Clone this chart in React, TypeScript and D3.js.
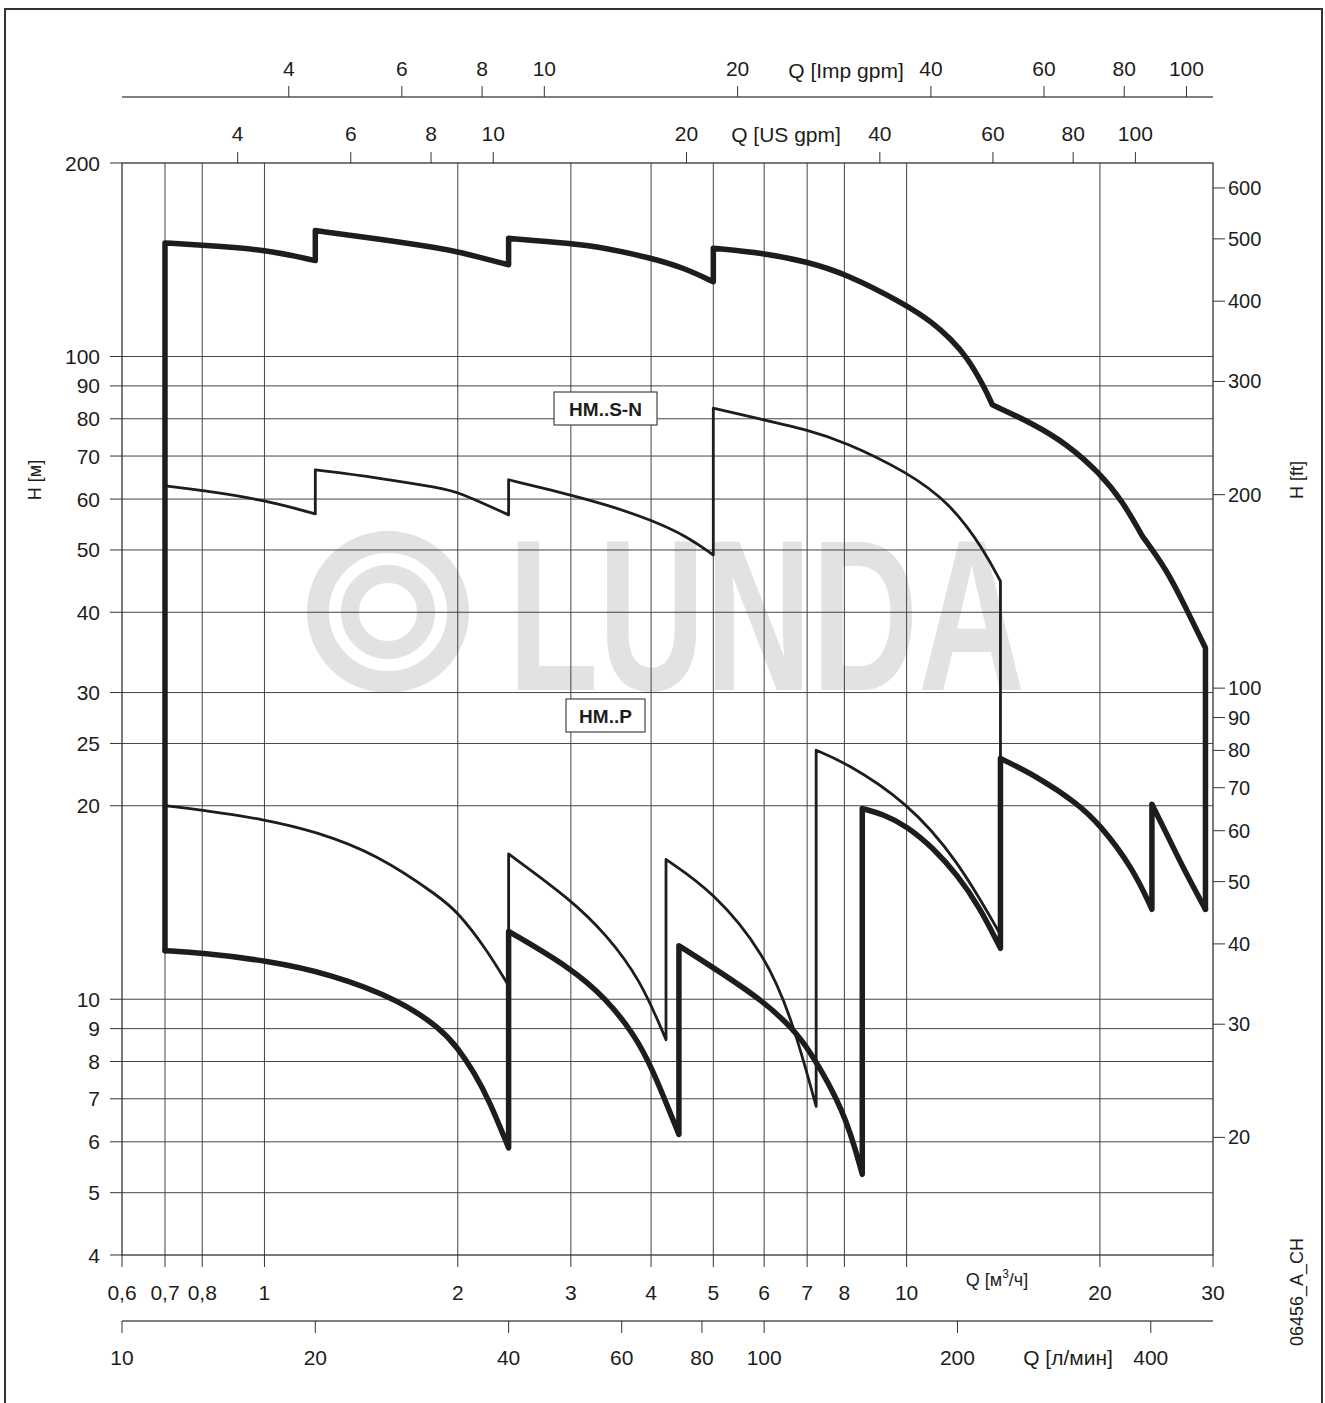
import React from 'react';
import * as d3 from 'd3';

// ---------- axis ticks ----------
const qTicks = [0.6, 0.7, 0.8, 1, 2, 3, 4, 5, 6, 7, 8, 10, 20, 30];
const qTickLabels = ['0,6', '0,7', '0,8', '1', '2', '3', '4', '5', '6', '7', '8', '10', '20', '30'];
const qGrid = [0.7, 0.8, 1, 2, 3, 4, 5, 6, 7, 8, 10, 20];
const hTicks = [200, 100, 90, 80, 70, 60, 50, 40, 30, 25, 20, 10, 9, 8, 7, 6, 5, 4];
const hGrid = [100, 90, 80, 70, 60, 50, 40, 30, 25, 20, 10, 9, 8, 7, 6, 5];
const ftTicks = [600, 500, 400, 300, 200, 100, 90, 80, 70, 60, 50, 40, 30, 20];
const usGpmTicks = [4, 6, 8, 10, 20, 40, 60, 80, 100];
const impGpmTicks = [4, 6, 8, 10, 20, 40, 60, 80, 100];
const lminTicks = [10, 20, 40, 60, 80, 100, 200, 400];

const US_GPM = 4.40287; // per m3/h
const IMP_GPM = 3.66615;
const LMIN = 16.6667;
const FT = 3.28084;

// ---------- curves: [Q m3/h, H m] ----------
// thick envelope, upper edge
const thickTop1 = [[0.7, 150.2], [0.8, 149], [1.0, 146.8], [1.2, 141]];
const thickTop2 = [[1.2, 157], [1.5, 152.5], [1.88, 147.4], [2.0, 145.6], [2.4, 138.9]];
const thickTop3 = [[2.4, 152.7], [3.0, 150.0], [3.41, 147.4], [4.0, 142.3], [4.5, 137.4], [5.0, 130.7]];
const thickTop4 = [[5.0, 147.4], [6.0, 144.8], [7.0, 140.4], [8.0, 134.8], [10, 120.3], [11, 112.7], [11.7, 106.6], [12.4, 100], [13.2, 89.8], [13.6, 84.1]];
const thickTop5 = [[13.6, 84.1], [15.7, 78.7], [17.8, 73.0], [20, 65.8], [21.7, 59.5], [23.3, 52.5]];
const thickTop6 = [[23.3, 52.5], [25.4, 46.6], [27, 41.3], [29.2, 35.2]];
// thick envelope, lower edge
const thickBot1 = [[0.7, 11.9], [0.8, 11.8], [1.0, 11.5], [1.27, 10.95], [1.63, 9.95], [1.88, 9.0], [2.0, 8.4], [2.12, 7.7], [2.24, 6.95], [2.4, 5.87]];
const thickBot2 = [[2.4, 12.75], [3.0, 11.19], [3.41, 10.0], [3.75, 8.86], [4.0, 7.9], [4.42, 6.16]];
const thickBot3 = [[4.42, 12.11], [5.0, 11.2], [6.0, 9.92], [6.64, 9.0], [7.0, 8.45], [8.0, 6.73], [8.53, 5.34]];
const thickBot4 = [[8.53, 19.8], [9.2, 19.4], [10, 18.6], [11, 17.2], [12, 15.6], [13, 13.9], [14, 12.0]];
const thickBot5 = [[14, 23.7], [16.1, 22.1], [18.4, 20.2], [20, 18.7], [22.5, 16.0], [24.1, 13.8]];
const thickBot6 = [[24.1, 20.1], [25.4, 18.1], [27, 15.95], [29.2, 13.8]];
// thin HM..S-N
const sn1 = [[0.7, 62.9], [0.8, 61.9], [1.0, 59.8], [1.2, 56.9]];
const sn2 = [[1.2, 66.6], [1.5, 64.8], [1.88, 62.4], [2.0, 61.6], [2.4, 56.7]];
const sn3 = [[2.4, 64.3], [3.0, 60.9], [3.41, 58.8], [4.0, 55.7], [4.55, 52.5], [5.0, 49.1]];
const sn4 = [[5.0, 83.1], [6.0, 79.7], [7.0, 76.9], [8.0, 73.7], [10, 66.2], [11.7, 59.1], [13.2, 50.0], [14, 44.7]];
const snEnd = [[14, 44.7], [14, 12.0]];
// thin HM..P
const p1 = [[0.7, 20], [0.8, 19.7], [1.0, 19.05], [1.2, 18.25], [1.5, 16.8], [1.88, 14.4], [2.0, 13.65], [2.2, 12.1], [2.4, 10.5]];
const p2 = [[2.4, 16.83], [3.0, 14.29], [3.41, 12.6], [3.85, 10.73], [4.22, 8.65]];
const p3 = [[4.22, 16.5], [5.0, 14.7], [6.0, 11.8], [6.64, 9.29], [7.23, 6.81]];
const p4 = [[7.23, 24.4], [8, 23.4], [10, 20.3], [12, 16.5], [14, 12.6]];

const left = 122, right = 1213, top = 163, bottom = 1255;
const x = d3.scaleLog().domain([0.6, 30]).range([left, right]);
const y = d3.scaleLog().domain([4, 200]).range([bottom, top]);

const lineGen = d3.line<number[]>().x(d => x(d[0])).y(d => y(d[1])).curve(d3.curveBasis);
const straight = d3.line<number[]>().x(d => x(d[0])).y(d => y(d[1]));

function joined(segs: number[][][], prefix?: number[][]): string {
  let s = prefix ? (straight(prefix) as string) : '';
  segs.forEach((seg, i) => {
    let p = lineGen(seg) as string;
    if (i > 0 || prefix) p = 'L' + p.slice(1);
    s += p;
  });
  return s;
}

const INK = '#1d1d1b';
const FONT = 'Liberation Sans, Arial, sans-serif';
const FS = 21;

export default function App() {
  const topPath = joined([thickTop1, thickTop2, thickTop3, thickTop4, thickTop5, thickTop6], [[0.7, 11.9], [0.7, 150.2]]) + 'L' + x(29.2) + ',' + y(13.8);
  const botPath = joined([thickBot1, thickBot2, thickBot3, thickBot4, thickBot5, thickBot6]);
  const snPath = joined([sn1, sn2, sn3, sn4]) + 'L' + x(snEnd[1][0]) + ',' + y(snEnd[1][1]);
  const pPath = joined([p1, p2, p3, p4]);

  const impY = 97, usY = 163, lminY = 1321;
  return (
    <svg width={1325} height={1403} style={{ position: 'absolute', left: 0, top: 0, background: '#fff' }} fontFamily={FONT}>
      <rect x={0} y={0} width={1325} height={1403} fill="#fff" />
      <rect x={5} y={9} width={1317} height={1420} fill="none" stroke="#333" strokeWidth={2} />

      {/* watermark */}
      <g>
        <circle cx={388} cy={612} r={70} fill="none" stroke="#e2e2e2" strokeWidth={22} />
        <circle cx={388} cy={612} r={38} fill="none" stroke="#e2e2e2" strokeWidth={18} />
        <text transform="translate(508,690) scale(0.684,1)" x={0} y={0} fontSize={216} fontWeight="bold" fill="#e2e2e2">LUNDA</text>
      </g>

      {/* grid */}
      {qGrid.map(q => (
        <line key={'gx' + q} x1={x(q)} x2={x(q)} y1={top} y2={bottom} stroke="#444" strokeWidth={1} />
      ))}
      {hGrid.map(h => (
        <line key={'gy' + h} x1={left} x2={right} y1={y(h)} y2={y(h)} stroke="#444" strokeWidth={1} />
      ))}
      <rect x={left} y={top} width={right - left} height={bottom - top} fill="none" stroke="#333" strokeWidth={1.3} />

      {/* left axis */}
      {hTicks.map(h => (
        <g key={'lt' + h}>
          <line x1={left - 12} x2={left} y1={y(h)} y2={y(h)} stroke="#333" />
          <text x={100} y={y(h)} textAnchor="end" dominantBaseline="central" fontSize={FS} fill={INK}>{h}</text>
        </g>
      ))}
      <text transform={`translate(35,480) rotate(-90)`} textAnchor="middle" dominantBaseline="central" fontSize={18} fill={INK}>H [м]</text>

      {/* right axis (ft) */}
      {ftTicks.map(f => (
        <g key={'rt' + f}>
          <line x1={right} x2={right + 12} y1={y(f / FT)} y2={y(f / FT)} stroke="#333" />
          <text x={1228} y={y(f / FT)} textAnchor="start" dominantBaseline="central" fontSize={20} fill={INK}>{f}</text>
        </g>
      ))}
      <text transform={`translate(1297,480) rotate(-90)`} textAnchor="middle" dominantBaseline="central" fontSize={18} fill={INK}>H [ft]</text>

      {/* bottom axis m3/h */}
      {qTicks.map((q, i) => (
        <g key={'bt' + q}>
          <line x1={x(q)} x2={x(q)} y1={bottom} y2={bottom + 12} stroke="#333" />
          <text x={x(q)} y={1292} textAnchor="middle" dominantBaseline="central" fontSize={FS} fill={INK}>{qTickLabels[i]}</text>
        </g>
      ))}
      <text x={997} y={1280} textAnchor="middle" dominantBaseline="central" fontSize={18} fill={INK}>Q [м<tspan fontSize={12} dy={-6}>3</tspan><tspan dy={6}>/ч]</tspan></text>

      {/* l/min axis */}
      <line x1={left} x2={right} y1={lminY} y2={lminY} stroke="#555" strokeWidth={1.5} />
      {lminTicks.map(l => (
        <g key={'lm' + l}>
          <line x1={x(l / LMIN)} x2={x(l / LMIN)} y1={lminY} y2={lminY + 12} stroke="#333" />
          <text x={x(l / LMIN)} y={1357} textAnchor="middle" dominantBaseline="central" fontSize={FS} fill={INK}>{l}</text>
        </g>
      ))}
      <text x={1068} y={1357} textAnchor="middle" dominantBaseline="central" fontSize={FS} fill={INK}>Q [л/мин]</text>

      {/* Imp gpm axis */}
      <line x1={left} x2={right} y1={impY} y2={impY} stroke="#555" strokeWidth={1.5} />
      {impGpmTicks.map(g => (
        <g key={'ig' + g}>
          <line x1={x(g / IMP_GPM)} x2={x(g / IMP_GPM)} y1={impY - 11} y2={impY} stroke="#333" />
          <text x={x(g / IMP_GPM)} y={68} textAnchor="middle" dominantBaseline="central" fontSize={FS} fill={INK}>{g}</text>
        </g>
      ))}
      <text x={846} y={70} textAnchor="middle" dominantBaseline="central" fontSize={FS} fill={INK}>Q [Imp gpm]</text>

      {/* US gpm axis */}
      {usGpmTicks.map(g => (
        <g key={'ug' + g}>
          <line x1={x(g / US_GPM)} x2={x(g / US_GPM)} y1={usY - 11} y2={usY} stroke="#333" />
          <text x={x(g / US_GPM)} y={133} textAnchor="middle" dominantBaseline="central" fontSize={FS} fill={INK}>{g}</text>
        </g>
      ))}
      <text x={786} y={134} textAnchor="middle" dominantBaseline="central" fontSize={FS} fill={INK}>Q [US gpm]</text>

      {/* curves */}
      <path d={pPath} fill="none" stroke={INK} strokeWidth={2.8} strokeLinejoin="round" strokeLinecap="round" />
      <path d={snPath} fill="none" stroke={INK} strokeWidth={2.8} strokeLinejoin="round" strokeLinecap="round" />
      <path d={topPath} fill="none" stroke={INK} strokeWidth={5.5} strokeLinejoin="round" strokeLinecap="round" />
      <path d={botPath} fill="none" stroke={INK} strokeWidth={5.5} strokeLinejoin="round" strokeLinecap="round" />

      {/* series labels */}
      <rect x={554} y={392} width={103} height={33} fill="#fff" stroke="#444" strokeWidth={1.2} />
      <text x={605.5} y={409} textAnchor="middle" dominantBaseline="central" fontSize={19} fontWeight="bold" fill={INK}>HM..S-N</text>
      <rect x={566} y={699} width={79} height={33} fill="#fff" stroke="#444" strokeWidth={1.2} />
      <text x={605.5} y={716} textAnchor="middle" dominantBaseline="central" fontSize={19} fontWeight="bold" fill={INK}>HM..P</text>

      <text transform={`translate(1297,1292) rotate(-90)`} textAnchor="middle" dominantBaseline="central" fontSize={18} fill={INK}>06456_A_CH</text>
    </svg>
  );
}
